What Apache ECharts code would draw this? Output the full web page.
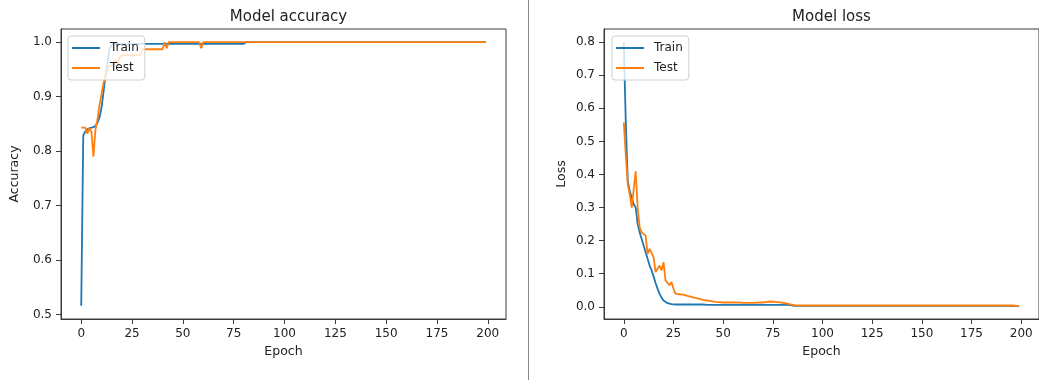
<!DOCTYPE html>
<html>
<head>
<meta charset="utf-8">
<script src="https://cdn.jsdelivr.net/npm/echarts@6/dist/echarts.min.js"></script>
<style>
html,body{margin:0;padding:0;background:#fff;}
#c{width:1039px;height:380px;}
</style>
</head>
<body>
<div id="c"></div>
<script>
// ---------- data ----------
const seriesNames = ['Train', 'Test'];
const titles = ['Model accuracy', 'Model loss'];
const xTicks = [0, 25, 50, 75, 100, 125, 150, 175, 200];
const accTicks = [0.5, 0.6, 0.7, 0.8, 0.9, 1.0];
const lossTicks = [0.0, 0.1, 0.2, 0.3, 0.4, 0.5, 0.6, 0.7, 0.8];

const accTrain = [
  0.516,0.829,0.836,0.840,0.842,0.843,0.844,0.846,0.852,0.862,
  0.880,0.910,0.940,0.965,0.988,0.996,0.997,0.997,0.997,0.997,
  0.997,0.997,0.997,0.997,0.997,0.997,0.997,0.997,0.997,0.997,
  0.997,0.997,0.997,0.997,0.997,0.997,0.997,0.997,0.997,0.997,
  0.997,0.997,0.997,0.997,0.997,0.997,0.997,0.997,0.997,0.997,
  0.997,0.997,0.997,0.997,0.997,0.997,0.997,0.997,0.997,0.997,
  0.997,0.997,0.997,0.997,0.997,0.997,0.997,0.997,0.997,0.997,
  0.997,0.997,0.997,0.997,0.997,0.997,0.997,0.997,0.997,0.997,
  0.997,1.000,1.000,1.000,1.000,1.000,1.000,1.000,1.000,1.000,
  1.000,1.000,1.000,1.000,1.000,1.000,1.000,1.000,1.000,1.000,
  1.000,1.000,1.000,1.000,1.000,1.000,1.000,1.000,1.000,1.000,
  1.000,1.000,1.000,1.000,1.000,1.000,1.000,1.000,1.000,1.000,
  1.000,1.000,1.000,1.000,1.000,1.000,1.000,1.000,1.000,1.000,
  1.000,1.000,1.000,1.000,1.000,1.000,1.000,1.000,1.000,1.000,
  1.000,1.000,1.000,1.000,1.000,1.000,1.000,1.000,1.000,1.000,
  1.000,1.000,1.000,1.000,1.000,1.000,1.000,1.000,1.000,1.000,
  1.000,1.000,1.000,1.000,1.000,1.000,1.000,1.000,1.000,1.000,
  1.000,1.000,1.000,1.000,1.000,1.000,1.000,1.000,1.000,1.000,
  1.000,1.000,1.000,1.000,1.000,1.000,1.000,1.000,1.000,1.000,
  1.000,1.000,1.000,1.000,1.000,1.000,1.000,1.000,1.000,1.000
];
const accTest = [
  0.843,0.843,0.843,0.832,0.842,0.836,0.790,0.840,0.858,0.885,
  0.905,0.925,0.940,0.950,0.957,0.957,0.962,0.968,0.960,0.972,
  0.976,0.976,0.976,0.976,0.976,0.976,0.976,0.976,0.976,0.976,
  0.987,0.987,0.987,0.987,0.987,0.987,0.987,0.987,0.987,0.987,
  0.987,1.000,0.989,1.000,1.000,1.000,1.000,1.000,1.000,1.000,
  1.000,1.000,1.000,1.000,1.000,1.000,1.000,1.000,1.000,0.989,
  1.000,1.000,1.000,1.000,1.000,1.000,1.000,1.000,1.000,1.000,
  1.000,1.000,1.000,1.000,1.000,1.000,1.000,1.000,1.000,1.000,
  1.000,1.000,1.000,1.000,1.000,1.000,1.000,1.000,1.000,1.000,
  1.000,1.000,1.000,1.000,1.000,1.000,1.000,1.000,1.000,1.000,
  1.000,1.000,1.000,1.000,1.000,1.000,1.000,1.000,1.000,1.000,
  1.000,1.000,1.000,1.000,1.000,1.000,1.000,1.000,1.000,1.000,
  1.000,1.000,1.000,1.000,1.000,1.000,1.000,1.000,1.000,1.000,
  1.000,1.000,1.000,1.000,1.000,1.000,1.000,1.000,1.000,1.000,
  1.000,1.000,1.000,1.000,1.000,1.000,1.000,1.000,1.000,1.000,
  1.000,1.000,1.000,1.000,1.000,1.000,1.000,1.000,1.000,1.000,
  1.000,1.000,1.000,1.000,1.000,1.000,1.000,1.000,1.000,1.000,
  1.000,1.000,1.000,1.000,1.000,1.000,1.000,1.000,1.000,1.000,
  1.000,1.000,1.000,1.000,1.000,1.000,1.000,1.000,1.000,1.000,
  1.000,1.000,1.000,1.000,1.000,1.000,1.000,1.000,1.000,1.000
];
const lossTrain = [
  0.800,0.560,0.380,0.350,0.330,0.310,0.300,0.250,0.225,0.205,
  0.185,0.165,0.145,0.125,0.110,0.092,0.072,0.055,0.040,0.028,
  0.019,0.014,0.011,0.009,0.008,0.007,0.007,0.007,0.007,0.007,
  0.007,0.007,0.007,0.007,0.007,0.007,0.007,0.007,0.007,0.007,
  0.007,0.006,0.006,0.006,0.006,0.006,0.006,0.006,0.006,0.006,
  0.006,0.006,0.006,0.006,0.006,0.006,0.006,0.006,0.006,0.006,
  0.006,0.006,0.006,0.006,0.006,0.006,0.006,0.006,0.006,0.006,
  0.006,0.006,0.006,0.006,0.006,0.006,0.006,0.006,0.006,0.006,
  0.006,0.006,0.006,0.005,0.005,0.004,0.003,0.003,0.003,0.003,
  0.003,0.003,0.003,0.003,0.003,0.003,0.003,0.003,0.003,0.003,
  0.003,0.003,0.003,0.003,0.003,0.003,0.003,0.003,0.003,0.003,
  0.003,0.003,0.003,0.003,0.003,0.003,0.003,0.003,0.003,0.003,
  0.003,0.003,0.003,0.003,0.003,0.003,0.003,0.003,0.003,0.003,
  0.003,0.003,0.003,0.003,0.003,0.003,0.003,0.003,0.003,0.003,
  0.003,0.003,0.003,0.003,0.003,0.003,0.003,0.003,0.003,0.003,
  0.003,0.003,0.003,0.003,0.003,0.003,0.003,0.003,0.003,0.003,
  0.003,0.003,0.003,0.003,0.003,0.003,0.003,0.003,0.003,0.003,
  0.003,0.003,0.003,0.003,0.003,0.003,0.003,0.003,0.003,0.003,
  0.003,0.003,0.003,0.003,0.003,0.003,0.003,0.003,0.003,0.003,
  0.003,0.003,0.003,0.003,0.003,0.003,0.003,0.003,0.003,0.003
];
const lossTest = [
  0.557,0.460,0.370,0.340,0.300,0.295,0.410,0.300,0.240,0.225,
  0.230,0.215,0.160,0.175,0.178,0.150,0.105,0.115,0.125,0.110,
  0.135,0.080,0.085,0.065,0.075,0.055,0.040,0.045,0.038,0.040,
  0.037,0.035,0.033,0.034,0.030,0.029,0.027,0.026,0.024,0.023,
  0.021,0.020,0.019,0.018,0.017,0.016,0.015,0.015,0.014,0.014,
  0.013,0.012,0.013,0.012,0.013,0.012,0.013,0.012,0.013,0.012,
  0.012,0.013,0.012,0.013,0.012,0.013,0.012,0.013,0.013,0.013,
  0.013,0.014,0.015,0.015,0.016,0.016,0.015,0.015,0.014,0.013,
  0.012,0.011,0.010,0.009,0.007,0.006,0.005,0.005,0.004,0.004,
  0.004,0.004,0.004,0.004,0.004,0.004,0.004,0.004,0.004,0.004,
  0.004,0.004,0.004,0.004,0.004,0.004,0.004,0.004,0.004,0.004,
  0.004,0.004,0.004,0.004,0.004,0.004,0.004,0.004,0.004,0.004,
  0.004,0.004,0.004,0.004,0.004,0.004,0.004,0.004,0.004,0.004,
  0.004,0.004,0.004,0.004,0.004,0.004,0.004,0.004,0.004,0.004,
  0.004,0.004,0.004,0.004,0.004,0.004,0.004,0.004,0.004,0.004,
  0.004,0.004,0.004,0.004,0.004,0.004,0.004,0.004,0.004,0.004,
  0.004,0.004,0.004,0.004,0.004,0.004,0.004,0.004,0.004,0.004,
  0.004,0.004,0.004,0.004,0.004,0.004,0.004,0.004,0.004,0.004,
  0.004,0.004,0.004,0.004,0.004,0.004,0.004,0.004,0.004,0.004,
  0.004,0.004,0.004,0.004,0.004,0.004,0.004,0.003,0.003,0.003
];

// ---------- chart ----------
const BLUE = '#1f77b4', ORANGE = '#ff7f0e';
const FONT = 'DejaVu Sans';
const TXT = '#222';
const AX = '#3a3a3a';

function pad(arrs) {
  const all = [].concat(...arrs);
  const lo = Math.min(...all), hi = Math.max(...all);
  const p = (hi - lo) * 0.05;
  return [lo - p, hi + p];
}
const xr = pad([[0, accTrain.length - 1]]);
const accR = pad([accTrain, accTest]);
const lossR = pad([lossTrain, lossTest]);
const pairs = a => a.map((v, i) => [i, v]);

const grids = [
  {left: 61, top: 29, width: 445, height: 290},
  {left: 604, top: 29, width: 445, height: 290}
];

function xAxis(gi) {
  return {
    type: 'value', gridIndex: gi, min: xr[0], max: xr[1], position: 'bottom',
    name: 'Epoch', nameLocation: 'middle', nameGap: 26,
    nameTextStyle: {fontFamily: FONT, fontSize: 12.5, color: TXT},
    axisLine: {show: true, onZero: false, lineStyle: {color: AX, width: 1}},
    axisTick: {show: true, inside: false, length: 5, customValues: xTicks, lineStyle: {color: AX, width: 1}},
    axisLabel: {customValues: xTicks, margin: 9, fontFamily: FONT, fontSize: 12, color: TXT},
    splitLine: {show: false}
  };
}
function yAxis(gi, r, ticks, name, gap) {
  return {
    type: 'value', gridIndex: gi, min: r[0], max: r[1], position: 'left',
    name: name, nameLocation: 'middle', nameGap: gap, nameRotate: 90,
    nameTextStyle: {fontFamily: FONT, fontSize: 12.5, color: TXT},
    axisLine: {show: true, onZero: false, lineStyle: {color: AX, width: 1}},
    axisTick: {show: true, inside: false, length: 5, customValues: ticks, lineStyle: {color: AX, width: 1}},
    axisLabel: {customValues: ticks, margin: 9, fontFamily: FONT, fontSize: 12, color: TXT,
      formatter: v => Number(v).toFixed(1)},
    splitLine: {show: false}
  };
}
function line(name, data, color, gi) {
  return {
    type: 'line', name: name, xAxisIndex: gi, yAxisIndex: gi,
    data: pairs(data), symbol: 'none', showSymbol: false,
    lineStyle: {color: color, width: 1.8}, itemStyle: {color: color},
    animation: false, silent: true
  };
}
function legend(left) {
  return {
    left: left, top: 36, orient: 'vertical',
    data: seriesNames, icon: 'rect', itemWidth: 28, itemHeight: 2, itemGap: 6,
    padding: [5, 6, 5, 4],
    backgroundColor: 'rgba(255,255,255,0.8)',
    borderColor: '#d0d0d0', borderWidth: 1, borderRadius: 3,
    textStyle: {fontFamily: FONT, fontSize: 12, color: TXT, padding: [0, 0, 0, 5], lineHeight: 14},
    selectedMode: false
  };
}

const chart = echarts.init(document.getElementById('c'), null, {renderer: 'canvas'});
chart.setOption({
  backgroundColor: '#fff',
  animation: false,
  title: [
    {text: titles[0], left: 283.5, top: 5, textAlign: 'center',
      textStyle: {fontFamily: FONT, fontSize: 15, fontWeight: 'normal', color: TXT}},
    {text: titles[1], left: 826.5, top: 5, textAlign: 'center',
      textStyle: {fontFamily: FONT, fontSize: 15, fontWeight: 'normal', color: TXT}}
  ],
  grid: grids.map(g => Object.assign({show: true, borderColor: AX, borderWidth: 1, backgroundColor: 'transparent'}, g)),
  xAxis: [xAxis(0), xAxis(1)],
  yAxis: [yAxis(0, accR, accTicks, 'Accuracy', 40), yAxis(1, lossR, lossTicks, 'Loss', 36)],
  legend: [legend(68), legend(612)],
  series: [
    line(seriesNames[0], accTrain, BLUE, 0),
    line(seriesNames[1], accTest, ORANGE, 0),
    line(seriesNames[0], lossTrain, BLUE, 1),
    line(seriesNames[1], lossTest, ORANGE, 1)
  ],
  graphic: [{
    type: 'line', shape: {x1: 528.5, y1: 0, x2: 528.5, y2: 380},
    style: {stroke: '#888', lineWidth: 1}, silent: true
  }]
});
</script>
</body>
</html>
